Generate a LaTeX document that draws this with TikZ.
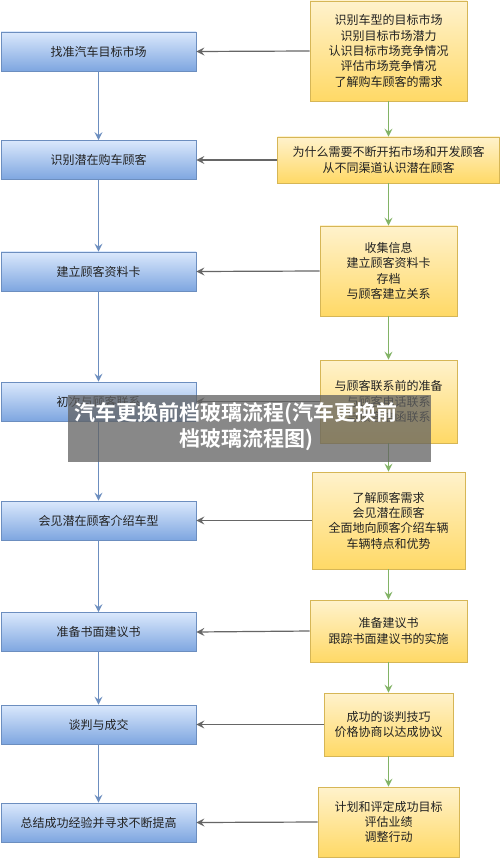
\documentclass[tikz,border=0pt]{standalone}
\usepackage{fontspec}
\setmainfont{Noto Sans CJK SC}
\newfontfamily\cjkbold{Noto Sans CJK SC Bold}
\usetikzlibrary{arrows.meta}
\definecolor{bluetop}{HTML}{DAE8FC}
\definecolor{bluebot}{HTML}{7EA6E0}
\definecolor{blueline}{HTML}{6C8EBF}
\definecolor{yeltop}{HTML}{FFF2CC}
\definecolor{yelbot}{HTML}{FFD966}
\definecolor{yelline}{HTML}{D6B656}
\definecolor{grnline}{HTML}{82B366}
\definecolor{grayline}{HTML}{666666}
\definecolor{txt}{HTML}{222222}
\tikzset{
  x=1pt, y=-1pt,
  lbox/.style={draw=blueline, line width=0.8pt, top color=bluetop, bottom color=bluebot,
    minimum width=195pt, minimum height=39pt, inner sep=0pt, font=\fontsize{12}{15}\selectfont, text=txt},
  rbox/.style={draw=yelline, line width=0.8pt, top color=yeltop, bottom color=yelbot,
    inner sep=0pt, align=center, font=\fontsize{12}{15.3}\selectfont, text=txt},
  harrow/.style={draw=grayline, line width=1.2pt, -{Stealth[length=8pt,width=8pt,inset=3pt]}},
  varrow/.style={draw=blueline, line width=1.2pt, -{Stealth[length=8pt,width=8pt,inset=3pt]}},
  garrow/.style={draw=grnline, line width=1.2pt, -{Stealth[length=8pt,width=8pt,inset=3pt]}},
  bannertext/.style={text=white, inner sep=0pt, font=\cjkbold\fontsize{21}{27}\selectfont},
}
\begin{document}
\begin{tikzpicture}
\useasboundingbox (0,0) rectangle (500,858);
\fill[white] (0,0) rectangle (500,858);
% left boxes
\node[lbox] (L1) at (98.5,51.5) {找准汽车目标市场};
\node[lbox] (L2) at (98.5,160) {识别潜在购车顾客};
\node[lbox] (L3) at (98.5,271.5) {建立顾客资料卡};
\node[lbox] (L4) at (98.5,401.5) {初次与顾客联系};
\node[lbox] (L5) at (98.5,520.5) {会见潜在顾客介绍车型};
\node[lbox] (L6) at (98.5,632) {准备书面建议书};
\node[lbox] (L7) at (98.5,724.5) {谈判与成交};
\node[lbox] (L8) at (98.5,822.5) {总结成功经验并寻求不断提高};
% right boxes
\node[rbox, minimum width=157pt, minimum height=100pt] (R1) at (388.5,51) {识别车型的目标市场\\识别目标市场潜力\\认识目标市场竞争情况\\评估市场竞争情况\\了解购车顾客的需求};
\node[rbox, minimum width=222pt, minimum height=46pt] (R2) at (388.5,160) {为什么需要不断开拓市场和开发顾客\\从不同渠道认识潜在顾客};
\node[rbox, minimum width=137pt, minimum height=90pt] (R3) at (388.5,271) {收集信息\\建立顾客资料卡\\存档\\与顾客建立关系};
\node[rbox, minimum width=137pt, minimum height=83pt] (R4) at (388.5,401.5) {与顾客联系前的准备\\与顾客电话联系\\与顾客信函联系};
\node[rbox, minimum width=153pt, minimum height=97pt] (R5) at (388.5,520.5) {了解顾客需求\\会见潜在顾客\\全面地向顾客介绍车辆\\车辆特点和优势};
\node[rbox, minimum width=157pt, minimum height=62pt] (R6) at (388.5,631) {准备建议书\\跟踪书面建议书的实施};
\node[rbox, minimum width=129pt, minimum height=63pt] (R7) at (388.5,724.5) {成功的谈判技巧\\价格协商以达成协议};
\node[rbox, minimum width=141pt, minimum height=70pt] (R8) at (388.5,822) {计划和评定成功目标\\评估业绩\\调整行动};
% left vertical arrows
\foreach \a/\b in {L1/L2,L2/L3,L3/L4,L4/L5,L5/L6,L6/L7,L7/L8}
  \draw[varrow] (\a.south) -- (\b.north);
% right vertical arrows
\foreach \a/\b in {R1/R2,R2/R3,R3/R4,R4/R5,R5/R6,R6/R7,R7/R8}
  \draw[garrow] (\a.south) -- (\b.north);
% horizontal arrows
\foreach \i in {1,...,8}
  \draw[harrow] (R\i.west) -- (L\i.east);
% overlay banner
\fill[black!62, opacity=0.75] (68,395) rectangle (431,462);
\node[bannertext] (T1) at (236,414) {汽车更换前档玻璃流程(汽车更换前};
\node[bannertext] (T2) at (246,440) {档玻璃流程图)};
\end{tikzpicture}
\end{document}
